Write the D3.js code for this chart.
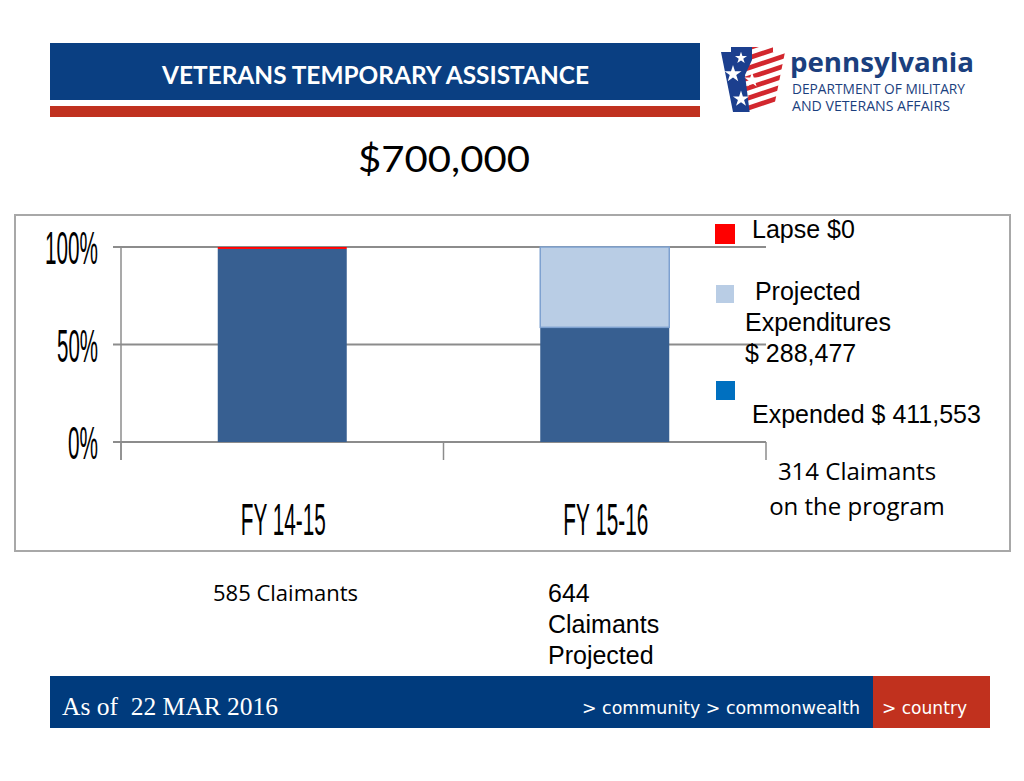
<!DOCTYPE html>
<html>
<head>
<meta charset="utf-8">
<script src="https://cdn.jsdelivr.net/npm/d3@7"></script>
<style>
  html, body { margin: 0; padding: 0; background: #ffffff; }
  svg { display: block; }
  text { white-space: pre; }
</style>
</head>
<body>
<svg id="chart" width="1024" height="781"></svg>
<script>
// ---- data ----
const categories = ["FY 14-15", "FY 15-16"];
const expended = [99, 58.8];   // % of $700,000
const projected = [0, 41.2];
const lapse = [1, 0];
const yTicks = [0, 50, 100];
const yTickLabels = ["0%", "50%", "100%"];
const claimantsBelow = [["585 Claimants"], ["644", "Claimants", "Projected"]];
const legendItems = [
  { key: "lapse", lines: ["Lapse $0"] },
  { key: "projected", lines: [" Projected", "Expenditures", "$ 288,477"] },
  { key: "expended", lines: ["", "Expended $ 411,553"] }
];
const noteLines = ["314 Claimants", "on the program"];
const titleText = "VETERANS TEMPORARY ASSISTANCE";
const budgetText = "$700,000";
const footerDate = "As of  22 MAR 2016";

// ---- styles ----
const colors = {
  expended: "#375F91",
  projected: "#B9CDE5",
  projectedStroke: "#7EA1D0",
  lapse: "#FF0000",
  legendExpended: "#0070C0",
  grid: "#8C8C8C",
  headerBlue: "#0A3F82",
  headerRed: "#C0311F",
  footerBlue: "#003B7D",
  footerRed: "#C1311E"
};

const svg = d3.select("#chart");

// ---- header ----
svg.append("rect").attr("x", 50).attr("y", 43).attr("width", 650).attr("height", 57).attr("fill", colors.headerBlue);
svg.append("rect").attr("x", 50).attr("y", 106).attr("width", 650).attr("height", 11).attr("fill", colors.headerRed);
svg.append("text").attr("x", 162).attr("y", 84).text(titleText)
  .attr("font-family", "Lato, 'Open Sans', sans-serif").attr("font-weight", "bold").attr("font-size", 25)
  .attr("fill", "#fff").attr("textLength", 427).attr("lengthAdjust", "spacingAndGlyphs");

// logo keystone
const logo = svg.append("g");
const ks = [[721, 52], [731, 52], [731, 47], [773, 47], [773, 52], [785, 52], [773, 112], [733, 112]];
svg.append("defs").append("clipPath").attr("id", "ksClip")
  .append("path").attr("d", d3.line()(ks) + "Z");
const kg = logo.append("g").attr("clip-path", "url(#ksClip)");
kg.append("rect").attr("x", 715).attr("y", 45).attr("width", 75).attr("height", 70).attr("fill", "#fff");
for (let i = 0; i < 8; i++) {
  kg.append("path")
    .attr("d", d3.line()([[735, 40 + i * 10], [795, 20 + i * 10], [795, 25 + i * 10], [735, 45 + i * 10]]) + "Z")
    .attr("fill", "#D2272E");
}
kg.append("path").attr("d", d3.line()([[715, 45], [752, 45], [752, 60], [745, 75], [750, 115], [715, 115]]) + "Z")
  .attr("fill", "#1C3F8E");
const starPts = [[741, 58], [733, 74], [752, 80], [741, 99]];
const starSizes = [45, 90, 70, 80];
starPts.forEach((p, i) => {
  kg.append("path").attr("d", d3.symbol(d3.symbolStar, starSizes[i])())
    .attr("transform", `translate(${p[0]},${p[1]})`).attr("fill", "#fff");
});
svg.append("text").attr("x", 790).attr("y", 72).text("pennsylvania")
  .attr("font-family", "'Open Sans', Lato, sans-serif").attr("font-weight", "bold").attr("font-size", 27)
  .attr("fill", "#1B3F7E").attr("textLength", 184).attr("lengthAdjust", "spacingAndGlyphs");
svg.append("text").attr("x", 792).attr("y", 94).text("DEPARTMENT OF MILITARY")
  .attr("font-family", "'Open Sans', Lato, sans-serif").attr("font-size", 14)
  .attr("fill", "#1B3F7E").attr("textLength", 173).attr("lengthAdjust", "spacingAndGlyphs");
svg.append("text").attr("x", 792).attr("y", 111).text("AND VETERANS AFFAIRS")
  .attr("font-family", "'Open Sans', Lato, sans-serif").attr("font-size", 14)
  .attr("fill", "#1B3F7E").attr("textLength", 158).attr("lengthAdjust", "spacingAndGlyphs");

// budget
svg.append("text").attr("x", 358).attr("y", 172).text(budgetText)
  .attr("font-family", "Lato, 'Open Sans', sans-serif").attr("font-size", 36)
  .attr("fill", "#000").attr("textLength", 172).attr("lengthAdjust", "spacingAndGlyphs");

// ---- chart frame ----
svg.append("rect").attr("x", 15).attr("y", 215).attr("width", 995).attr("height", 336)
  .attr("fill", "#fff").attr("stroke", "#A8A8A8").attr("stroke-width", 2);

// ---- scales ----
const x = d3.scaleBand().domain(categories).range([121, 766]).paddingInner(0.6).paddingOuter(0.3);
const y = d3.scaleLinear().domain([0, 100]).range([442, 247]);

// gridlines
svg.append("g").selectAll("line").data(yTicks).join("line")
  .attr("x1", 113).attr("x2", 766)
  .attr("y1", d => y(d)).attr("y2", d => y(d))
  .attr("stroke", colors.grid).attr("stroke-width", 2);

// y axis line
svg.append("line").attr("x1", 121).attr("x2", 121).attr("y1", y(100)).attr("y2", y(0) + 18)
  .attr("stroke", colors.grid).attr("stroke-width", 1.5);
// category separators
const step = x.step();
const sepX = [0, 1, 2].map(i => 121 + i * step);
svg.append("g").selectAll("line").data(sepX).join("line")
  .attr("x1", d => d).attr("x2", d => d).attr("y1", y(0)).attr("y2", y(0) + 18)
  .attr("stroke", colors.grid).attr("stroke-width", 1.5);

// y labels
const yLabW = { "0%": 30, "50%": 41, "100%": 53 };
svg.append("g").selectAll("text").data(yTicks).join("text")
  .attr("x", 98).attr("y", d => y(d) + 17).attr("text-anchor", "end")
  .attr("font-family", "'Liberation Sans Narrow', 'Liberation Sans', sans-serif").attr("font-size", 46)
  .attr("fill", "#000")
  .text((d, i) => yTickLabels[i])
  .attr("textLength", (d, i) => yLabW[yTickLabels[i]]).attr("lengthAdjust", "spacingAndGlyphs");

// x labels
svg.append("g").selectAll("text").data(categories).join("text")
  .attr("x", d => x(d) + x.bandwidth() / 2 + 1).attr("y", 535).attr("text-anchor", "middle")
  .attr("font-family", "'Liberation Sans Narrow', 'Liberation Sans', sans-serif").attr("font-size", 45)
  .attr("fill", "#000").text(d => d)
  .attr("textLength", 85).attr("lengthAdjust", "spacingAndGlyphs");

// stacked bars
const rows = categories.map((c, i) => ({ cat: c, expended: expended[i], projected: projected[i], lapse: lapse[i] }));
const stack = d3.stack().keys(["expended", "projected", "lapse"])(rows);
const fills = { expended: colors.expended, projected: colors.projected, lapse: colors.lapse };
stack.forEach(layer => {
  svg.append("g").selectAll("rect").data(layer.filter(d => d[1] - d[0] > 0)).join("rect")
    .attr("x", d => x(d.data.cat)).attr("width", x.bandwidth())
    .attr("y", d => y(d[1])).attr("height", d => y(d[0]) - y(d[1]))
    .attr("fill", fills[layer.key])
    .attr("stroke", layer.key === "projected" ? colors.projectedStroke : "none")
    .attr("stroke-width", 1.5);
});

// legend
const legColors = { lapse: colors.lapse, projected: colors.projected, expended: colors.legendExpended };
const legSq = { lapse: [715, 224, 20], projected: [716, 285, 18], expended: [716, 381, 19] };
const legText = { lapse: [[752, 238]], projected: [[748, 300], [745, 331], [745, 362]], expended: [[752, 392], [752, 423]] };
legendItems.forEach(it => {
  const s = legSq[it.key];
  svg.append("rect").attr("x", s[0]).attr("y", s[1]).attr("width", s[2]).attr("height", s[2]).attr("fill", legColors[it.key]);
  it.lines.forEach((ln, j) => {
    svg.append("text").attr("x", legText[it.key][j][0]).attr("y", legText[it.key][j][1]).text(ln)
      .attr("font-family", "'Liberation Sans', Arial, sans-serif").attr("font-size", 25).attr("fill", "#000");
  });
});

// note
svg.append("g").selectAll("text").data(noteLines).join("text")
  .attr("x", 857).attr("y", (d, i) => 480 + i * 35).attr("text-anchor", "middle")
  .attr("font-family", "'Open Sans', sans-serif").attr("font-size", 24).attr("fill", "#000").text(d => d);

// below labels
svg.append("text").attr("x", 213).attr("y", 601).text(claimantsBelow[0][0])
  .attr("font-family", "'Open Sans', sans-serif").attr("font-size", 22).attr("fill", "#000");
claimantsBelow[1].forEach((ln, j) => {
  svg.append("text").attr("x", 548).attr("y", 602 + j * 31).text(ln)
    .attr("font-family", "'Liberation Sans', Arial, sans-serif").attr("font-size", 25).attr("fill", "#000");
});

// ---- footer ----
svg.append("rect").attr("x", 50).attr("y", 676).attr("width", 823).attr("height", 52).attr("fill", colors.footerBlue);
svg.append("rect").attr("x", 873).attr("y", 676).attr("width", 117).attr("height", 52).attr("fill", colors.footerRed);
svg.append("text").attr("x", 62).attr("y", 715).text(footerDate)
  .attr("font-family", "'Liberation Serif', 'Times New Roman', serif").attr("font-size", 25.5).attr("fill", "#fff");
svg.append("text").attr("x", 582).attr("y", 714).text("> community > commonwealth")
  .attr("font-family", "'DejaVu Sans', Verdana, sans-serif").attr("font-size", 18).attr("fill", "#fff")
  .attr("textLength", 278).attr("lengthAdjust", "spacingAndGlyphs");
svg.append("text").attr("x", 882).attr("y", 714).text("> country")
  .attr("font-family", "'DejaVu Sans', Verdana, sans-serif").attr("font-size", 18).attr("fill", "#fff")
  .attr("textLength", 85).attr("lengthAdjust", "spacingAndGlyphs");
</script>
</body>
</html>
